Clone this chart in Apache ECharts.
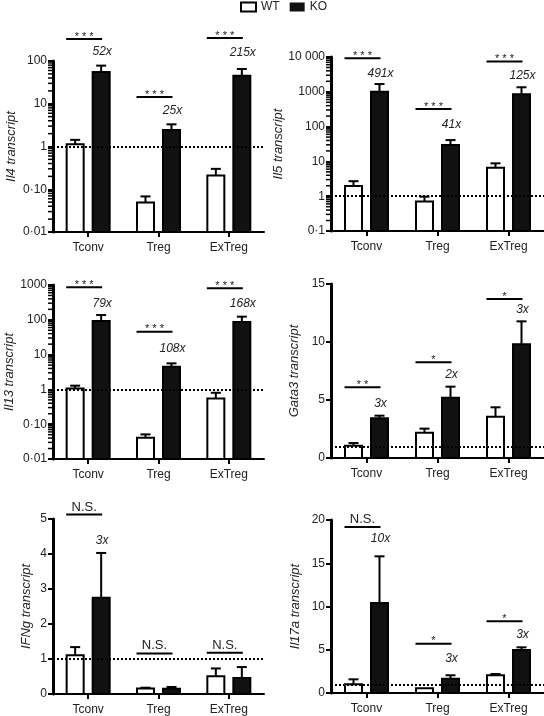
<!DOCTYPE html>
<html><head><meta charset="utf-8">
<script src="https://cdn.jsdelivr.net/npm/echarts@6/dist/echarts.min.js"></script>
<style>html,body{margin:0;padding:0;background:#fff}#c{width:544px;height:716px}</style>
</head><body><div id="c"></div>
<script>
const categories = ['Tconv', 'Treg', 'ExTreg'];

// Il4 (log)
const il4WT = [1.13, 0.049, 0.21];
const il4WTErr = [1.43, 0.068, 0.30];
const il4KO = [55, 2.44, 45];
const il4KOErr = [78, 3.3, 65];
const il4SigY = [325, 14.4, 345];
const il4Sig = ['***', '***', '***'];
const il4FoldY = [162, 6.8, 154];
const il4Fold = ['52x', '25x', '215x'];
const il4Ticks = ['0·01', '0·10', '1', '10', '100'];

// Il5 (log)
const il5WT = [1.96, 0.70, 6.6];
const il5WTErr = [2.7, 0.97, 8.8];
const il5KO = [1000, 29.6, 850];
const il5KOErr = [1670, 41, 1350];
const il5SigY = [9200, 320, 7400];
const il5Sig = ['***', '***', '***'];
const il5FoldY = [3400, 111, 3000];
const il5Fold = ['491x', '41x', '125x'];
const il5Ticks = ['0·1', '1', '10', '100', '1000', '10 000'];

// Il13 (log)
const il13WT = [1.07, 0.041, 0.55];
const il13WTErr = [1.28, 0.051, 0.80];
const il13KO = [92, 4.5, 86];
const il13KOErr = [137, 5.6, 123];
const il13SigY = [860, 45.6, 800];
const il13Sig = ['***', '***', '***'];
const il13FoldY = [297, 15, 297];
const il13Fold = ['79x', '108x', '168x'];
const il13Ticks = ['0·01', '0·10', '1', '10', '100', '1000'];

// Gata3 (linear)
const gata3WT = [1.06, 2.18, 3.56];
const gata3WTErr = [1.29, 2.53, 4.37];
const gata3KO = [3.42, 5.2, 9.8];
const gata3KOErr = [3.65, 6.15, 11.78];
const gata3SigY = [6.09, 8.25, 13.7];
const gata3Sig = ['**', '*', '*'];
const gata3FoldY = [4.7, 7.15, 12.76];
const gata3Fold = ['3x', '2x', '3x'];

// IFNg (linear)
const ifngWT = [1.11, 0.16, 0.51];
const ifngWTErr = [1.34, 0.18, 0.73];
const ifngKO = [2.75, 0.15, 0.46];
const ifngKOErr = [4.03, 0.2, 0.77];
const ifngSigY = [5.13, 1.16, 1.18];
const ifngSig = ['N.S.', 'N.S.', 'N.S.'];
const ifngFoldY = [4.39, null, null];
const ifngFold = ['3x', '', ''];

// Il17a (linear)
const il17WT = [1.0, 0.54, 2.05];
const il17WTErr = [1.58, null, 2.2];
const il17KO = [10.4, 1.65, 4.97];
const il17KOErr = [15.8, 2.05, 5.28];
const il17SigY = [19.2, 5.7, 8.3];
const il17Sig = ['N.S.', '*', '*'];
const il17FoldY = [17.9, 3.96, 6.78];
const il17Fold = ['10x', '3x', '3x'];

// log-axis minor tick multipliers within each decade
const minorMultipliers = [2, 3, 4, 5, 6, 7, 8, 9];

const FONT = '"Liberation Sans", Arial, Helvetica, sans-serif';
const BAR_W = 17;
const BAR_OFF = 13;

const panels = [
  {title: 'Il4 transcript', log: true, min: 0.01, max: 100, ticks: il4Ticks, grid: {left: 53, top: 61, width: 211, height: 171}, nameGap: 35,
   wt: il4WT, wtErr: il4WTErr, ko: il4KO, koErr: il4KOErr, sigY: il4SigY, sig: il4Sig, foldY: il4FoldY, fold: il4Fold},
  {title: 'Il5 transcript', log: true, min: 0.1, max: 10000, ticks: il5Ticks, grid: {left: 331, top: 57, width: 213, height: 174}, nameGap: 44,
   wt: il5WT, wtErr: il5WTErr, ko: il5KO, koErr: il5KOErr, sigY: il5SigY, sig: il5Sig, foldY: il5FoldY, fold: il5Fold},
  {title: 'Il13 transcript', log: true, min: 0.01, max: 1000, ticks: il13Ticks, grid: {left: 53, top: 285, width: 211, height: 174}, nameGap: 37,
   wt: il13WT, wtErr: il13WTErr, ko: il13KO, koErr: il13KOErr, sigY: il13SigY, sig: il13Sig, foldY: il13FoldY, fold: il13Fold},
  {title: 'Gata3 transcript', log: false, min: 0, max: 15, interval: 5, grid: {left: 331, top: 284, width: 213, height: 174}, nameGap: 30,
   wt: gata3WT, wtErr: gata3WTErr, ko: gata3KO, koErr: gata3KOErr, sigY: gata3SigY, sig: gata3Sig, foldY: gata3FoldY, fold: gata3Fold},
  {title: 'IFNg transcript', log: false, min: 0, max: 5, interval: 1, grid: {left: 53, top: 519, width: 211, height: 175}, nameGap: 20,
   wt: ifngWT, wtErr: ifngWTErr, ko: ifngKO, koErr: ifngKOErr, sigY: ifngSigY, sig: ifngSig, foldY: ifngFoldY, fold: ifngFold},
  {title: 'Il17a transcript', log: false, min: 0, max: 20, interval: 5, grid: {left: 331, top: 520, width: 213, height: 173}, nameGap: 29,
   wt: il17WT, wtErr: il17WTErr, ko: il17KO, koErr: il17KOErr, sigY: il17SigY, sig: il17Sig, foldY: il17FoldY, fold: il17Fold}
];

function barRender(sign, fill) {
  return function (params, api) {
    const c = api.coord([api.value(0), api.value(1)]);
    const cs = params.coordSys;
    const bottom = cs.y + cs.height;
    const x = c[0] + sign * BAR_OFF;
    const children = [{
      type: 'rect',
      shape: {x: x - BAR_W / 2, y: c[1], width: BAR_W, height: bottom - c[1]},
      style: {fill: fill, stroke: '#000', lineWidth: 2}
    }];
    const e = api.value(2);
    if (e != null && !isNaN(e)) {
      const t = api.coord([api.value(0), e]);
      children.push({type: 'line', shape: {x1: x, y1: c[1], x2: x, y2: t[1]}, style: {stroke: '#000', lineWidth: 2}});
      children.push({type: 'line', shape: {x1: x - 5, y1: t[1], x2: x + 5, y2: t[1]}, style: {stroke: '#000', lineWidth: 2}});
    }
    return {type: 'group', children: children};
  };
}

function annRender(p) {
  return function (params, api) {
    const i = params.dataIndex;
    const a = api.coord([i, p.sigY[i]]);
    const isStar = /^\*+$/.test(p.sig[i]);
    const children = [
      {type: 'line', shape: {x1: a[0] - 22, y1: a[1], x2: a[0] + 14, y2: a[1]}, style: {stroke: '#000', lineWidth: 2}},
      {type: 'text', style: {
        text: isStar ? p.sig[i].split('').join(' ') : p.sig[i],
        x: a[0] - 4, y: isStar ? a[1] + 3 : a[1] - 1,
        fill: '#222', font: (isStar ? '11px ' : '13px ') + FONT,
        align: 'center', verticalAlign: 'bottom'
      }}
    ];
    if (p.fold[i]) {
      const q = api.coord([i, p.foldY[i]]);
      children.push({type: 'text', style: {
        text: p.fold[i], x: q[0] + 14, y: q[1], fill: '#222',
        font: 'italic 12px ' + FONT, align: 'center', verticalAlign: 'middle'
      }});
    }
    return {type: 'group', children: children};
  };
}

function minorRender(params, api) {
  const c = api.coord([0, api.value(1)]);
  const x = params.coordSys.x;
  return {type: 'line', shape: {x1: x - 5, y1: c[1], x2: x, y2: c[1]}, style: {stroke: '#000', lineWidth: 1.5}};
}

const grids = [], xAxes = [], yAxes = [], series = [];
panels.forEach(function (p, gi) {
  grids.push(Object.assign({containLabel: false}, p.grid));
  xAxes.push({
    gridIndex: gi, type: 'category', data: categories, boundaryGap: true,
    axisLine: {show: true, lineStyle: {color: '#000', width: 2}},
    axisTick: {show: true, alignWithLabel: true, length: 5, lineStyle: {color: '#000', width: 2}},
    axisLabel: {fontSize: 12, color: '#222', fontFamily: FONT, margin: 10},
    splitLine: {show: false}
  });
  const y = {
    gridIndex: gi, name: p.title, nameLocation: 'middle', nameGap: p.nameGap, nameRotate: 90,
    nameTextStyle: {fontStyle: 'italic', fontSize: 13, color: '#222', fontFamily: FONT},
    min: p.min, max: p.max,
    axisLine: {show: true, lineStyle: {color: '#000', width: 3}},
    axisTick: {show: true, length: 5, lineStyle: {color: '#000', width: 2}},
    axisLabel: {fontSize: 12, color: '#222', fontFamily: FONT, margin: 6},
    splitLine: {show: false}
  };
  if (p.log) {
    y.type = 'log';
    y.logBase = 10;
    const minExp = Math.round(Math.log10(p.min));
    const maxExp = Math.round(Math.log10(p.max));
    const ticks = p.ticks;
    y.axisLabel.formatter = function (v) {
      const k = Math.round(Math.log10(v)) - minExp;
      return ticks[k] != null ? ticks[k] : '';
    };
    const minorData = [];
    for (let e = minExp; e < maxExp; e++) {
      minorMultipliers.forEach(function (m) { minorData.push([0, m * Math.pow(10, e)]); });
    }
    series.push({
      name: 'minor', type: 'custom', xAxisIndex: gi, yAxisIndex: gi, clip: false, silent: true,
      dimensions: ['cat', 'v'], encode: {x: 0, y: 1},
      data: minorData, renderItem: minorRender
    });
  } else {
    y.type = 'value';
    y.interval = p.interval;
  }
  yAxes.push(y);

  series.push({
    name: 'WT', type: 'custom', xAxisIndex: gi, yAxisIndex: gi, clip: false,
    itemStyle: {color: '#fff', borderColor: '#000', borderWidth: 2},
    dimensions: ['cat', 'val', 'err'], encode: {x: 0, y: 1},
    data: p.wt.map(function (v, i) { return [i, v, p.wtErr[i]]; }),
    renderItem: barRender(-1, '#fff')
  });
  series.push({
    name: 'KO', type: 'custom', xAxisIndex: gi, yAxisIndex: gi, clip: false,
    itemStyle: {color: '#111'},
    dimensions: ['cat', 'val', 'err'], encode: {x: 0, y: 1},
    data: p.ko.map(function (v, i) { return [i, v, p.koErr[i]]; }),
    renderItem: barRender(1, '#111')
  });
  series.push({
    name: 'annot', type: 'custom', xAxisIndex: gi, yAxisIndex: gi, clip: false, z: 5,
    dimensions: ['cat', 'sig'], encode: {x: 0, y: 1},
    data: p.sigY.map(function (v, i) { return [i, v]; }),
    renderItem: annRender(p),
    markLine: {
      silent: true, symbol: 'none', label: {show: false},
      lineStyle: {type: [2, 2], width: 2, color: '#000'},
      emphasis: {disabled: true},
      data: [{yAxis: 1}]
    }
  });
});

const chart = echarts.init(document.getElementById('c'), null, {renderer: 'canvas'});
chart.setOption({
  animation: false,
  backgroundColor: '#fff',
  textStyle: {fontFamily: FONT},
  legend: {
    top: 0, left: 240, padding: [1, 0, 0, 0], itemWidth: 15, itemHeight: 9, itemGap: 10,
    textStyle: {fontSize: 12, color: '#222', fontFamily: FONT},
    selectedMode: false,
    data: [
      {name: 'WT', icon: 'rect', itemStyle: {color: '#fff', borderColor: '#000', borderWidth: 2}},
      {name: 'KO', icon: 'rect', itemStyle: {color: '#111', borderWidth: 0}}
    ]
  },
  grid: grids, xAxis: xAxes, yAxis: yAxes, series: series
});
</script></body></html>
